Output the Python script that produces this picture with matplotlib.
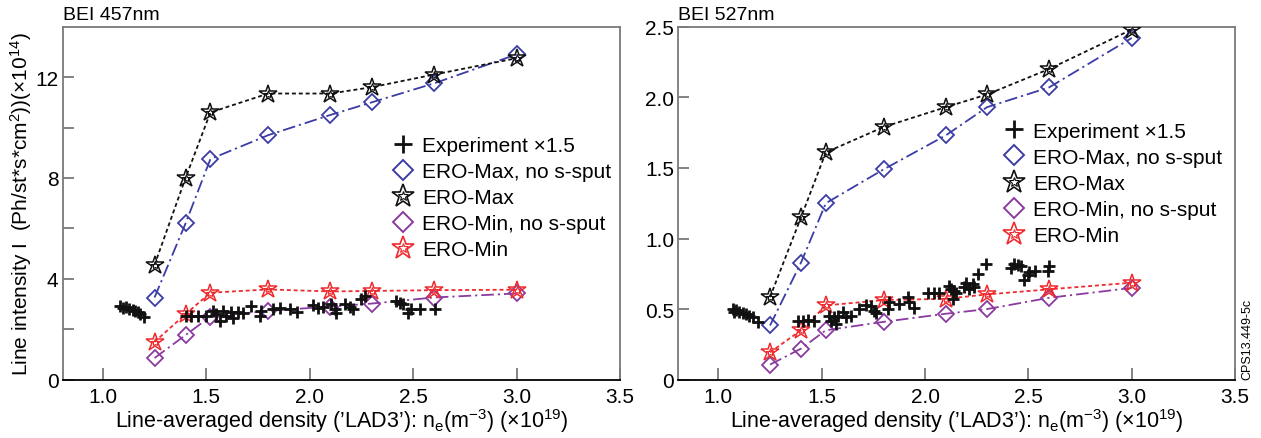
import matplotlib
matplotlib.use("Agg")
import matplotlib.pyplot as plt
from matplotlib.lines import Line2D
from matplotlib.legend_handler import HandlerTuple

plt.rcParams['font.family'] = ['Liberation Sans', 'DejaVu Sans']
plt.rcParams['mathtext.fontset'] = 'custom'
plt.rcParams['mathtext.rm'] = 'Liberation Sans'
plt.rcParams['mathtext.it'] = 'Liberation Sans'
plt.rcParams['mathtext.bf'] = 'Liberation Sans'
plt.rcParams['mathtext.default'] = 'regular'

# ---------------- data ----------------
ero_x = [1.25, 1.4, 1.52, 1.8, 2.1, 2.3, 2.6, 3.0]

# BEI 457nm
max_457 = [4.55, 8.0, 10.6, 11.35, 11.35, 11.6, 12.1, 12.75]
max_nos_457 = [3.26, 6.2, 8.75, 9.7, 10.5, 11.0, 11.75, 12.9]
min_457 = [1.5, 2.6, 3.45, 3.58, 3.5, 3.52, 3.55, 3.57]
min_nos_457 = [0.86, 1.77, 2.5, 2.73, 2.9, 3.02, 3.26, 3.42]

exp_x_457 = [1.085, 1.097, 1.113, 1.129, 1.145, 1.158, 1.171, 1.182, 1.197,
             1.403, 1.427, 1.46, 1.5,
             1.532, 1.548, 1.565, 1.58, 1.597, 1.621, 1.629, 1.653, 1.677,
             1.718, 1.758, 1.766, 1.823, 1.855, 1.903, 1.939,
             2.016, 2.04, 2.065, 2.105, 2.121, 2.129, 2.169, 2.194, 2.21,
             2.25, 2.266, 2.419, 2.435, 2.452, 2.476, 2.492, 2.532, 2.605]
exp_y_457 = [2.93, 2.86, 2.9, 2.82, 2.76, 2.72, 2.69, 2.6, 2.47,
             2.51, 2.51, 2.51, 2.53,
             2.73, 2.6, 2.34, 2.73, 2.54, 2.67, 2.44, 2.69, 2.63,
             2.93, 2.54, 2.73, 2.8, 2.86, 2.8, 2.7,
             2.95, 2.86, 2.9, 3.0, 2.8, 2.64, 3.0, 2.9, 2.82,
             3.21, 3.32, 3.13, 3.06, 3.0, 2.64, 2.8, 2.8, 2.8]

# BEI 527nm
max_527 = [0.585, 1.15, 1.61, 1.79, 1.93, 2.02, 2.2, 2.48]
max_nos_527 = [0.384, 0.83, 1.25, 1.49, 1.73, 1.93, 2.07, 2.42]
min_527 = [0.194, 0.35, 0.526, 0.564, 0.573, 0.604, 0.64, 0.687]
min_nos_527 = [0.107, 0.22, 0.35, 0.41, 0.467, 0.5, 0.58, 0.65]

exp_x_527 = [1.069, 1.077, 1.085, 1.102, 1.118, 1.134, 1.15, 1.169, 1.19,
             1.384, 1.408, 1.432, 1.465,
             1.537, 1.545, 1.561, 1.569, 1.577, 1.602, 1.618, 1.642,
             1.682, 1.715, 1.739, 1.755, 1.763, 1.819, 1.827, 1.876,
             1.916, 1.924, 1.948, 2.013, 2.045, 2.069,
             2.118, 2.126, 2.134, 2.142, 2.15, 2.19, 2.198, 2.215, 2.231, 2.239,
             2.255, 2.295, 2.416, 2.432, 2.448, 2.465, 2.481, 2.497, 2.505,
             2.534, 2.594, 2.602]
exp_y_527 = [0.501, 0.483, 0.494, 0.483, 0.473, 0.466, 0.454, 0.442, 0.407,
             0.419, 0.419, 0.426, 0.419,
             0.45, 0.419, 0.442, 0.395, 0.454, 0.478, 0.442, 0.45,
             0.501, 0.529, 0.52, 0.489, 0.473, 0.501, 0.548, 0.536,
             0.584, 0.553, 0.506, 0.612, 0.612, 0.614,
             0.667, 0.643, 0.572, 0.631, 0.612, 0.655, 0.686, 0.643, 0.679, 0.655,
             0.749, 0.82, 0.79, 0.82, 0.813, 0.803, 0.707, 0.742, 0.766,
             0.773, 0.773, 0.808]

labels = ["Experiment \u00d71.5", "ERO-Max, no s-sput", "ERO-Max",
          "ERO-Min, no s-sput", "ERO-Min"]

BLUE = '#3b3ca6'
PURPLE = '#8b3aa0'
RED = '#ee2b2f'
BLACK = '#111111'
GREY = '#7a7a7a'

dotted = (0, (2.2, 1.6))
dashdot = (0, (7, 2.2, 1.2, 2.2))

fig = plt.figure(figsize=(12.61, 4.39), dpi=100)
ax1 = fig.add_axes([0.0497, 0.1328, 0.4420, 0.8041])
ax2 = fig.add_axes([0.5379, 0.1328, 0.4415, 0.8041])


def star(ax, x, y, color, ls):
    ax.plot(x, y, linestyle=ls, color=color, lw=1.3, marker='*', ms=13.5,
            mfc='none', mec=color, mew=1.1, zorder=3)
    ax.plot(x, y, linestyle='none', marker='*', ms=6, mfc='none', mec=color,
            mew=0.8, zorder=3)


def diamond(ax, x, y, color, ls):
    ax.plot(x, y, linestyle=ls, color=color, lw=1.3, marker='D', ms=8,
            mfc='none', mec=color, mew=1.3, zorder=3)


def panel(ax, exp_x, exp_y, mx_nos, mx, mn_nos, mn, title, legpos):
    ax.plot(exp_x, exp_y, linestyle='none', marker='+', ms=9, mew=2.0,
            color=BLACK, zorder=4)
    diamond(ax, ero_x, mx_nos, BLUE, dashdot)
    star(ax, ero_x, mx, BLACK, dotted)
    diamond(ax, ero_x, mn_nos, PURPLE, dashdot)
    star(ax, ero_x, mn, RED, dotted)

    ax.set_xlim(0.806, 3.5)
    ax.set_xticks([1.0, 1.5, 2.0, 2.5, 3.0, 3.5])
    ax.set_xticklabels(['1.0', '1.5', '2.0', '2.5', '3.0', '3.5'])
    for s in ['left', 'top', 'right']:
        ax.spines[s].set_color(GREY)
        ax.spines[s].set_linewidth(1.3)
    ax.spines['bottom'].set_color('black')
    ax.spines['bottom'].set_linewidth(1.3)
    ax.tick_params(axis='both', which='both', direction='in', color=GREY,
                   width=1.3, labelsize=15)
    ax.tick_params(axis='x', length=9, pad=5)
    ax.tick_params(axis='y', which='both', length=8, pad=3)
    ax.set_xlabel("Line-averaged density (\u2019LAD3\u2019): n$_e$(m$^{-3}$) (\u00d710$^{19}$)",
                  fontsize=15.5, labelpad=0)
    ax.text(0.0, 1.01, title, transform=ax.transAxes,
            ha='left', va='bottom', fontsize=14)

    h_exp = Line2D([], [], linestyle='none', marker='+', ms=13, mew=2.0, color=BLACK)
    h_mxn = Line2D([], [], linestyle='none', marker='D', ms=10.5, mfc='none', mec=BLUE, mew=1.4)
    h_mx = (Line2D([], [], linestyle='none', marker='*', ms=17, mfc='none', mec=BLACK, mew=1.2),
            Line2D([], [], linestyle='none', marker='*', ms=7.5, mfc='none', mec=BLACK, mew=0.8))
    h_mnn = Line2D([], [], linestyle='none', marker='D', ms=10.5, mfc='none', mec=PURPLE, mew=1.4)
    h_mn = (Line2D([], [], linestyle='none', marker='*', ms=17, mfc='none', mec=RED, mew=1.2),
            Line2D([], [], linestyle='none', marker='*', ms=7.5, mfc='none', mec=RED, mew=0.8))
    ax.legend([h_exp, h_mxn, h_mx, h_mnn, h_mn], labels,
              handler_map={tuple: HandlerTuple(ndivide=1, pad=0)},
              loc='upper left', bbox_to_anchor=legpos, frameon=False,
              fontsize=15, handlelength=1.0, handletextpad=0.4,
              labelspacing=0.34, borderaxespad=0, borderpad=0)


panel(ax1, exp_x_457, exp_y_457, max_nos_457, max_457, min_nos_457, min_457,
      "BEI 457nm", (0.592, 0.69))
ax1.set_ylim(0, 14)
ax1.set_yticks([0, 4, 8, 12])
ax1.set_yticks([2, 6, 10], minor=True)
ax1.set_yticklabels(['0', '4', '8', '12'])
ax1.set_ylabel("Line intensity I  (Ph/st*s*cm$^2$))(\u00d710$^{14}$)", fontsize=15,
               labelpad=1)

panel(ax2, exp_x_527, exp_y_527, max_nos_527, max_527, min_nos_527, min_527,
      "BEI 527nm", (0.585, 0.731))
ax2.set_ylim(0, 2.5)
ax2.set_yticks([0, 0.5, 1.0, 1.5, 2.0, 2.5])
ax2.set_yticklabels(['0', '0.5', '1.0', '1.5', '2.0', '2.5'])

fig.text(0.9895, 0.135, "CPS13.449-5c", rotation=90, fontsize=9,
         ha='center', va='bottom')

fig.savefig("out.png", dpi=100)
